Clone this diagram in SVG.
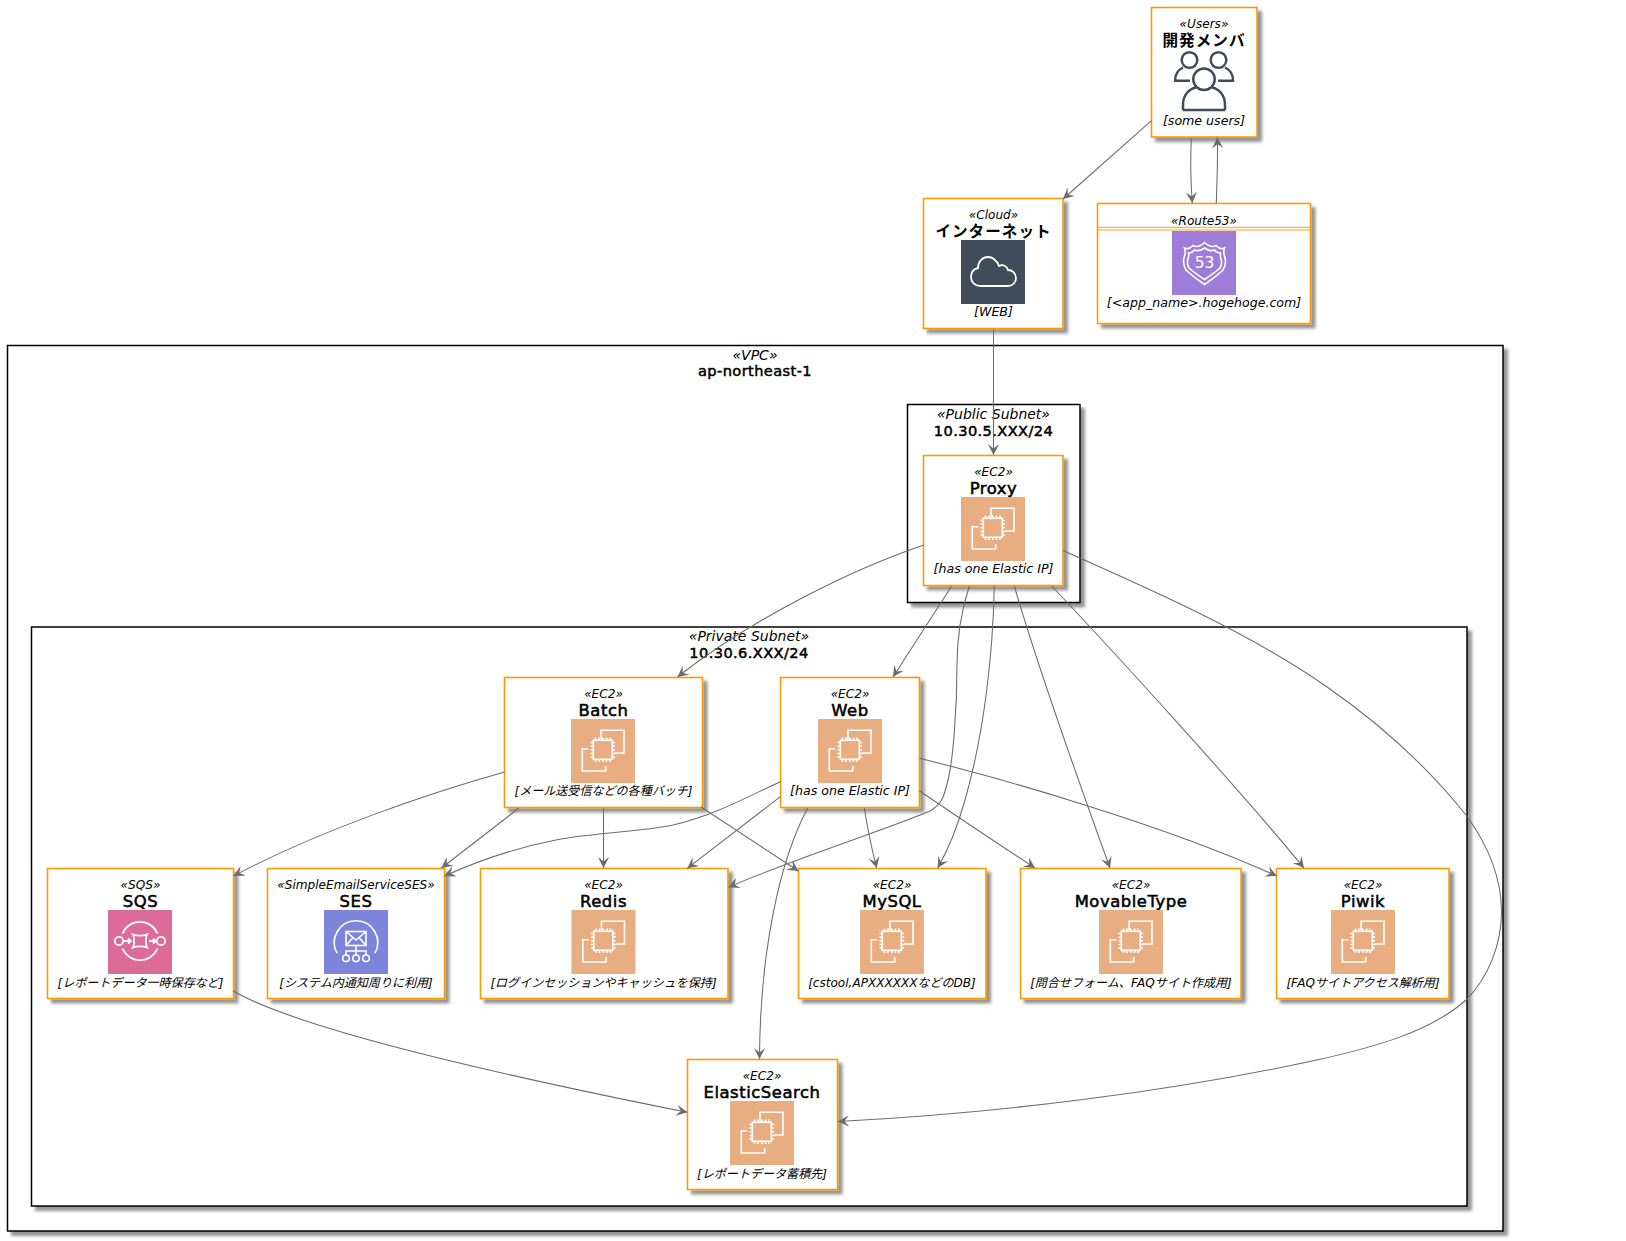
<svg xmlns="http://www.w3.org/2000/svg" width="1626" height="1241" viewBox="0 0 1626 1241">
<style>
text{font-family:"DejaVu Sans","Noto Sans CJK JP",sans-serif;fill:#000;text-anchor:middle}
.st{font-size:12.1px;font-style:italic}
.ti{font-size:16.4px;letter-spacing:.55px;stroke:#000;stroke-width:.55}
.tj{font-size:15.6px;font-weight:bold;letter-spacing:1px}
.de{font-size:12.6px;font-style:italic}
.dj{font-size:12.05px;font-style:italic}
.cs{font-size:14px;font-style:italic}
.ct{font-size:14.6px;letter-spacing:.4px;stroke:#000;stroke-width:.5}
.box{fill:#fff;stroke:#f90;stroke-width:1.6;filter:url(#sh)}
.cont{fill:#fff;stroke:#000;stroke-width:1.5;filter:url(#sh)}
.e{fill:none;stroke:#6b6b6b;stroke-width:1.05;marker-end:url(#ah)}
.w{fill:none;stroke:#fff;stroke-width:1.6}
.wt{fill:none;stroke:#fff;stroke-width:1.8}
</style>
<defs>
<filter id="sh" x="-5%" y="-5%" width="112%" height="112%"><feDropShadow dx="4.2" dy="4.2" stdDeviation="1.6" flood-color="#000" flood-opacity=".42"/></filter>
<marker id="ah" markerUnits="userSpaceOnUse" markerWidth="13" markerHeight="13" viewBox="0 -6.5 13 13" refX="11" refY="0" orient="auto"><path d="M0,-5.6 L11,0 L0,5.6 L4.5,0 Z" fill="#6b6b6b"/></marker>
<g id="ec2"><rect width="64" height="64" fill="#e9ad82"/>
<path class="w" d="M30,20V11.3H53V34H44M17.3,29.7H11.3V52H34.7V47"/><rect class="w" x="22.3" y="21.3" width="19" height="19"/>
<path class="w" d="M24.5,18.5v2.8M28,18.5v2.8M31.8,18.5v2.8M35.5,18.5v2.8M39,18.5v2.8M24.5,40.3v2.8M28,40.3v2.8M31.8,40.3v2.8M35.5,40.3v2.8M39,40.3v2.8M19.5,23.5h2.8M19.5,27h2.8M19.5,30.8h2.8M19.5,34.5h2.8M19.5,38h2.8M41.3,23.5h2.8M41.3,27h2.8M41.3,30.8h2.8M41.3,34.5h2.8M41.3,38h2.8"/></g>
</defs>
<rect width="1626" height="1241" fill="#fff"/>

<g id="vpc"><rect class="cont" x="7.5" y="345.5" width="1495.5" height="885.5"/>
<text class="cs" x="755" y="360">«VPC»</text><text class="ct" x="755" y="376">ap-northeast-1</text></g>
<g id="public-subnet"><rect class="cont" x="907.5" y="404.5" width="172.5" height="198"/>
<text class="cs" x="993.5" y="419">«Public Subnet»</text><text class="ct" x="993.5" y="435.5">10.30.5.XXX/24</text></g>
<g id="private-subnet"><rect class="cont" x="31.5" y="627" width="1435.5" height="579"/>
<text class="cs" x="749" y="641">«Private Subnet»</text><text class="ct" x="749" y="657.5">10.30.6.XXX/24</text></g>

<g id="users"><rect class="box" x="1151.5" y="7.5" width="105.5" height="129.5"/>
<text class="st" x="1204" y="28.3">«Users»</text><text class="tj" x="1204" y="45.5">開発メンバ</text>
<g fill="none" stroke="#414c5a" stroke-width="2.5"><circle cx="1189.5" cy="60" r="7.8"/><circle cx="1218.5" cy="60" r="7.8"/><circle cx="1204" cy="79.3" r="10.7"/>
<path d="M1190,80.7H1175.2C1174.8,74 1178,70 1183,67.5M1218,80.7H1233C1233.4,74 1230,70 1225,67.5M1183,110V105C1183,95 1189,89 1196,87.5M1225,110V105C1225,95 1219,89 1212,87.5M1183,110H1225"/></g>
<text class="de" x="1204" y="124.8">[some users]</text></g>

<g id="internet"><rect class="box" x="923.5" y="198.5" width="139.5" height="130"/>
<text class="st" x="993.5" y="218.5">«Cloud»</text><text class="tj" x="993.5" y="236.5">インターネット</text>
<rect x="961" y="240" width="64" height="64" fill="#414c5a"/>
<path class="wt" transform="translate(961,240)" d="M19,46H47C52,46 55,42 55,38C55,33 51,30 47,30C46,26 42,24 38,26C36,20 31,17 27,17C21,17 17,22 17,28C12,29 10,33 10,37C10,42 14,46 19,46Z"/>
<text class="de" x="993.5" y="315.5">[WEB]</text></g>

<g id="route53"><rect class="box" x="1097.5" y="203.5" width="213" height="120"/>
<text class="st" x="1204" y="224.5">«Route53»</text><path d="M1097.5,227.3H1310.5M1097.5,230H1310.5" stroke="#f90" stroke-width=".9"/>
<rect x="1172" y="231" width="64" height="64" fill="#9d7dd8"/>
<g transform="translate(1172,231)"><path class="w" d="M12.5,17Q17,19 21,14.5Q26,17.5 32.5,11.5Q39,17.5 44,14.5Q48,19 52.5,17Q51,20.5 52.5,25Q55,32 51,39Q46,44 32.5,53.5Q19,44 14,39Q10,32 12.5,25Q14,20.5 12.5,17Z"/><path class="w" d="M16.5,22Q20,22 22.5,19Q27,21 32.5,17Q38,21 42.5,19Q45,22 48.5,22Q48,25 49,28Q50.5,33 48,37Q43,41.5 32.5,48.5Q22,41.5 17,37Q14.5,33 16,28Q17,25 16.5,22Z"/></g>
<text x="1204.5" y="268" style="font-size:15.5px;fill:#fff">53</text>
<text class="de" x="1204" y="306.5">[&lt;app_name&gt;.hogehoge.com]</text></g>

<g id="proxy"><rect class="box" x="923.5" y="455.5" width="139.5" height="130"/>
<text class="st" x="993.5" y="475.5">«EC2»</text><text class="ti" x="993.5" y="493.5">Proxy</text><use href="#ec2" x="961" y="497"/>
<text class="de" x="993.5" y="573">[has one Elastic IP]</text></g>

<g id="batch"><rect class="box" x="504.5" y="677.5" width="198" height="130"/>
<text class="st" x="603.5" y="697.5">«EC2»</text><text class="ti" x="603.5" y="715.5">Batch</text><use href="#ec2" x="571" y="719"/>
<text class="dj" x="603.5" y="795">[メール送受信などの各種バッチ]</text></g>

<g id="web"><rect class="box" x="780.5" y="677.5" width="139" height="130"/>
<text class="st" x="850" y="697.5">«EC2»</text><text class="ti" x="850" y="715.5">Web</text><use href="#ec2" x="818" y="719"/>
<text class="de" x="850" y="795">[has one Elastic IP]</text></g>

<g id="sqs"><rect class="box" x="47.5" y="868.5" width="186" height="130"/>
<text class="st" x="140.5" y="888.5">«SQS»</text><text class="ti" x="140.5" y="906.5">SQS</text>
<rect x="108" y="910" width="64" height="64" fill="#dc6b98"/>
<g transform="translate(108,910)"><path class="wt" d="M14.5,23.5A19,19 0 0 1 49.5,23.5M14.5,38.5A19,19 0 0 0 49.5,38.5"/><circle class="wt" cx="11" cy="31" r="4.2"/><circle class="wt" cx="53" cy="31" r="4.2"/><path class="wt" d="M25,24.5C28,26 36,26 39,24.5C37.5,28 37.5,34 39,37.5C36,36 28,36 25,37.5C26.5,34 26.5,28 25,24.5Z"/><path class="wt" d="M16,31H22M20,28.5L23,31L20,33.5M41,31H47M45,28.5L48,31L45,33.5"/></g>
<text class="dj" x="140.5" y="986.5">[レポートデータ一時保存など]</text></g>

<g id="ses"><rect class="box" x="267.5" y="868.5" width="177" height="130"/>
<text class="st" x="356" y="888.5">«SimpleEmailServiceSES»</text><text class="ti" x="356" y="906.5">SES</text>
<rect x="324" y="910" width="64" height="64" fill="#7d84dc"/>
<g transform="translate(324,910)"><path class="w" d="M13,43A21.7,21.7 0 1 1 51,43"/><rect class="w" x="22" y="21.5" width="20" height="14"/><path class="w" d="M22,21.5L32,30L42,21.5M22,35.5L29,27.5M42,35.5L35,27.5M32,35.5V45M22,45V41H42V45"/><circle class="w" cx="22" cy="48.3" r="3.3"/><circle class="w" cx="32" cy="48.3" r="3.3"/><circle class="w" cx="42" cy="48.3" r="3.3"/></g>
<text class="dj" x="356" y="986.5">[システム内通知周りに利用]</text></g>

<g id="redis"><rect class="box" x="480.5" y="868.5" width="247.5" height="130"/>
<text class="st" x="603.5" y="888.5">«EC2»</text><text class="ti" x="603.5" y="906.5">Redis</text><use href="#ec2" x="571.5" y="910"/>
<text class="dj" x="603.5" y="986.5">[ログインセッションやキャッシュを保持]</text></g>

<g id="mysql"><rect class="box" x="798.5" y="868.5" width="187.5" height="130"/>
<text class="st" x="892" y="888.5">«EC2»</text><text class="ti" x="892" y="906.5">MySQL</text><use href="#ec2" x="860" y="910"/>
<text class="dj" x="892" y="986.5">[cstool,APXXXXXXなどのDB]</text></g>

<g id="movabletype"><rect class="box" x="1020.5" y="868.5" width="220.5" height="130"/>
<text class="st" x="1131" y="888.5">«EC2»</text><text class="ti" x="1131" y="906.5">MovableType</text><use href="#ec2" x="1099" y="910"/>
<text class="dj" x="1131" y="986.5">[問合せフォーム、FAQサイト作成用]</text></g>

<g id="piwik"><rect class="box" x="1276.5" y="868.5" width="172.5" height="130"/>
<text class="st" x="1363" y="888.5">«EC2»</text><text class="ti" x="1363" y="906.5">Piwik</text><use href="#ec2" x="1331" y="910"/>
<text class="dj" x="1363" y="986.5">[FAQサイトアクセス解析用]</text></g>

<g id="elasticsearch"><rect class="box" x="687.5" y="1059.5" width="150" height="130"/>
<text class="st" x="762" y="1079.5">«EC2»</text><text class="ti" x="762" y="1097.5">ElasticSearch</text><use href="#ec2" x="730" y="1101"/>
<text class="dj" x="762" y="1177.5">[レポートデータ蓄積先]</text></g>

<g id="connectors">
<path class="e" d="M1151.5,120.7L1063,199"/>
<path class="e" d="M1191.3,138C1190.5,155 1190.5,180 1192.3,203"/>
<path class="e" d="M1216.3,203C1217,180 1218,160 1217.3,137.5"/>
<path class="e" d="M993.5,329V455"/>
<path class="e" d="M924,545C850,570 750,620 677.5,677"/>
<path class="e" d="M951.7,586L893,677"/>
<path class="e" d="M969.3,586C960,615 957,640 957,665C957,710 953,760 948,780C944,797 942,804 930,811C880,832 790,860 728.5,887.3"/>
<path class="e" d="M994.3,586C993,650 985,730 965,800C958,825 948,850 937.7,868"/>
<path class="e" d="M1014.3,586C1030,640 1060,730 1110,868"/>
<path class="e" d="M1051.7,586C1115,653 1240,790 1304,868"/>
<path class="e" d="M1063,550.5C1150,589 1250,633 1326.7,686.7C1385,727 1430,770 1466,815C1485,841 1501.5,875 1501.5,912C1501.5,945 1488,978 1466,1000C1430,1032 1375,1047 1316.8,1060C1170,1092 1000,1113 838,1121.5"/>
<path class="e" d="M504.5,772C430,793 320,830 233.5,876"/>
<path class="e" d="M519,808L441.5,868"/>
<path class="e" d="M603.5,808V868"/>
<path class="e" d="M701,807L798.5,871"/>
<path class="e" d="M780.3,796.7L687.3,868.3"/>
<path class="e" d="M780.3,781.7C745,798 715,815 673,825C640,832 590,833 556,840C520,847 480,860 444.5,876"/>
<path class="e" d="M807.7,808C780,860 760,950 759.5,1059"/>
<path class="e" d="M864.3,808C867,825 872,850 876.7,868"/>
<path class="e" d="M919.3,790.7C955,815 1000,845 1035,868"/>
<path class="e" d="M919.3,758.3C1000,778 1165,825 1276.7,876"/>
<path class="e" d="M233.3,991C300,1030 500,1075 687.3,1112.3"/>
</g>
</svg>
